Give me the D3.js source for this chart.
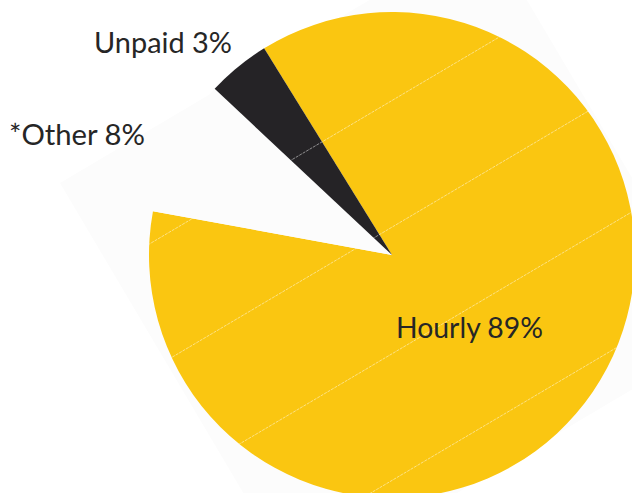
<!DOCTYPE html>
<html>
<head>
<meta charset="utf-8">
<script src="https://cdn.jsdelivr.net/npm/d3@7"></script>
<style>
  html, body { margin: 0; padding: 0; background: #fff; }
  svg { display: block; }
  .lbl { font-family: Lato, "Noto Sans", sans-serif; fill: #262626; }
</style>
</head>
<body>
<div id="chart"></div>
<script>
// Slices in clockwise order, starting at the Hourly/Unpaid border
const categories = ["Hourly", "*Other", "Unpaid"];
const labelText = ["Hourly 89%", "*Other 8%", "Unpaid 3%"];
const shares = [86.7, 9.1, 4.2]; // share of the circle each slice takes as drawn
const sliceColors = ["#fac611", "#fcfcfc", "#252326"];

const width = 632, height = 493;
const cx = 392, cy = 255, radius = 243;
const startDeg = -31.75;

const svg = d3.select("#chart")
    .append("svg")
    .attr("width", width)
    .attr("height", height);

// faint backdrop of the rotated picture the pie was pasted in
const backdrop = svg.append("g")
    .attr("transform", "translate(60,183) rotate(-30.6)");
backdrop.append("rect")
    .attr("width", 495)
    .attr("height", 469)
    .attr("fill", "#fcfcfc");

const pie = d3.pie()
    .sort(null)
    .value(d => d)
    .startAngle(startDeg * Math.PI / 180)
    .endAngle((startDeg + 360) * Math.PI / 180);

const arc = d3.arc()
    .innerRadius(0)
    .outerRadius(radius);

const arcs = pie(shares);

const g = svg.append("g")
    .attr("transform", "translate(" + cx + "," + cy + ")");

g.selectAll("path.slice")
    .data(arcs)
    .enter().append("path")
    .attr("class", "slice")
    .attr("d", arc)
    .attr("fill", (d, i) => sliceColors[i]);

// clip for the faint tile seams running across the filled slices
const defs = svg.append("defs");
defs.append("clipPath")
    .attr("id", "pieclip")
    .selectAll("path")
    .data(arcs.filter((d, i) => i !== 1))
    .enter().append("path")
    .attr("d", arc)
    .attr("transform", "translate(" + cx + "," + cy + ")");

const seamRows = d3.range(98, 469, 109);
svg.append("g")
    .attr("clip-path", "url(#pieclip)")
    .append("g")
    .attr("transform", "translate(60,183) rotate(-30.6)")
    .selectAll("line")
    .data(seamRows)
    .enter().append("line")
    .attr("x1", 0)
    .attr("x2", 495)
    .attr("y1", d => d)
    .attr("y2", d => d)
    .attr("stroke", "#fff")
    .attr("stroke-width", 0.8)
    .attr("stroke-opacity", 0.55)
    .attr("stroke-dasharray", "3,1");

// labels
const labelPos = [
    { x: 396, y: 338, w: 147 },
    { x: 9, y: 145, w: 136 },
    { x: 94, y: 53, w: 138 }
];

svg.selectAll("text.lbl")
    .data(labelText)
    .enter().append("text")
    .attr("class", "lbl")
    .attr("x", (d, i) => labelPos[i].x)
    .attr("y", (d, i) => labelPos[i].y)
    .attr("font-size", 28)
    .attr("textLength", (d, i) => labelPos[i].w)
    .attr("lengthAdjust", "spacingAndGlyphs")
    .text(d => d);
</script>
</body>
</html>
